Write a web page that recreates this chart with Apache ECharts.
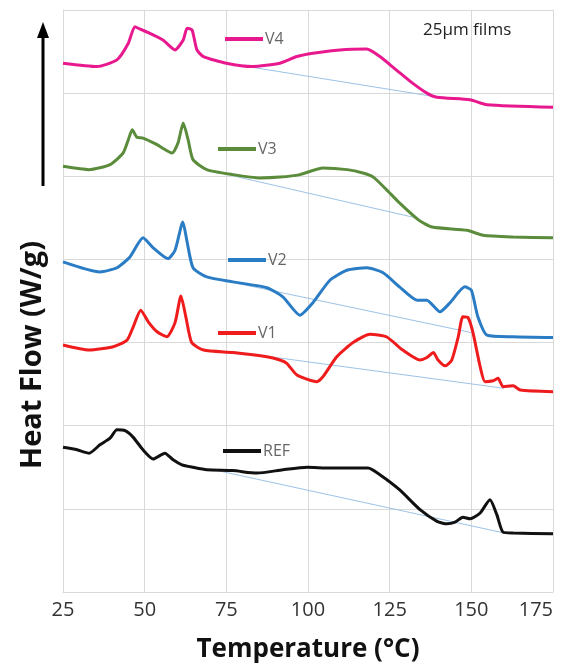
<html>
<head>
<meta charset="utf-8"/>
<title>DSC curves</title>
<script src="https://cdn.jsdelivr.net/npm/echarts@6/dist/echarts.min.js"></script>
</head>
<body style="margin:0">
<div id="main" style="width:563px;height:671px;"></div>
<script type="text/javascript">
// temperature ticks on the x axis
var xTicks = [25, 50, 75, 100, 125, 150, 175];

// [temperature, heat flow (stacked, arbitrary units)]
var V4 = [[25,6.36],[35.4,6.32],[41.5,6.40],[45,6.60],[47,6.80],[48.6,6.77],[51.6,6.72],[55.6,6.64],[59.3,6.52],[61.8,6.64],[63,6.78],[64.5,6.76],[66,6.52],[68,6.44],[75,6.36],[83,6.32],[91.4,6.36],[96.6,6.44],[101.5,6.48],[109.8,6.52],[118,6.53],[122,6.44],[127,6.28],[132,6.12],[136.4,6.00],[139.5,5.95],[149.6,5.92],[154.8,5.86],[175,5.83]];
var V3 = [[25,5.12],[33,5.08],[39.4,5.14],[43.4,5.28],[45,5.44],[46.2,5.56],[47.6,5.47],[49.5,5.46],[53.8,5.38],[58.4,5.28],[60.2,5.40],[61.8,5.64],[63.3,5.44],[64.8,5.20],[69,5.08],[77,5.02],[85.3,4.98],[91.4,4.99],[97.5,5.02],[104.6,5.10],[112,5.08],[116.8,5.04],[120,4.99],[124,4.84],[128,4.68],[134,4.47],[138,4.39],[148.7,4.35],[153.6,4.29],[162.8,4.27],[175,4.26]];
var V2 = [[25,3.97],[36.3,3.85],[41.5,3.90],[45.5,4.03],[49.5,4.26],[52.6,4.14],[57.1,4.01],[59.3,4.11],[61.7,4.45],[62.9,4.23],[64.8,3.90],[69,3.79],[77,3.73],[87.4,3.66],[92.3,3.55],[97.5,3.33],[101.5,3.48],[106.7,3.75],[111.9,3.87],[118,3.90],[123,3.84],[128,3.67],[133.4,3.51],[136.4,3.51],[140.4,3.37],[143.5,3.48],[148,3.67],[150,3.63],[152,3.31],[154.8,3.09],[162.8,3.07],[175,3.06]];
var V1 = [[25,2.97],[33,2.91],[40.4,2.95],[44.6,3.03],[46.5,3.19],[48.8,3.39],[51.1,3.25],[53.8,3.13],[56.8,3.07],[59.3,3.24],[61.1,3.56],[62.6,3.31],[64.4,3.00],[68,2.91],[77,2.88],[87.4,2.83],[91.4,2.79],[93.5,2.75],[96.6,2.61],[102.7,2.53],[104.6,2.59],[108.8,2.83],[113.8,3.00],[119,3.10],[124,3.07],[129,2.91],[134.3,2.79],[136.4,2.82],[138.4,2.88],[139.8,2.79],[142,2.72],[144,2.79],[146,3.07],[147.4,3.31],[149,3.30],[150.5,3.12],[152.7,2.71],[154.2,2.53],[156.7,2.54],[158.2,2.57],[159.7,2.47],[162.8,2.48],[165,2.43],[175,2.41]];
var REF = [[25,1.74],[29.3,1.71],[33,1.67],[36.3,1.77],[39.4,1.85],[41.5,1.95],[44,1.94],[46.5,1.86],[49.5,1.71],[52.6,1.60],[56.2,1.67],[58.7,1.59],[61.4,1.53],[64.8,1.50],[69,1.47],[77,1.46],[84.4,1.43],[92.3,1.47],[99.7,1.50],[106.7,1.49],[118.4,1.49],[122,1.41],[128,1.23],[134.3,0.99],[139.5,0.85],[142.5,0.82],[145,0.84],[147.4,0.90],[149.6,0.88],[152.7,0.95],[155.7,1.11],[157.8,0.93],[159.7,0.72],[162.8,0.71],[175,0.70]];

// tangent baselines drawn under each curve
var V4base = [[72,6.38],[140,5.95]];
var V3base = [[71,5.06],[133,4.50]];
var V2base = [[75,3.74],[150,3.12]];
var V1base = [[77,2.89],[160,2.45]];
var REFbase = [[70,1.48],[160,0.71]];

var names = ['V4', 'V3', 'V2', 'V1', 'REF'];
var curves = [V4, V3, V2, V1, REF];
var bases = [V4base, V3base, V2base, V1base, REFbase];
var colors = ['#e8198e', '#5b8c3b', '#2a7cc4', '#ee1c1c', '#111111'];
// legend placement (left, top) next to each curve
var legendPos = [[225, 31], [218, 141], [228, 252], [218, 325], [223, 443]];

var chartDom = document.getElementById('main');
var myChart = echarts.init(chartDom);

var series = [];
bases.forEach(function (b) {
    series.push({
        type: 'line',
        data: b,
        symbol: 'none',
        silent: true,
        lineStyle: { color: '#9dc3e6', width: 1 },
        z: 1
    });
});
curves.forEach(function (c, i) {
    series.push({
        name: names[i],
        type: 'line',
        data: c,
        symbol: 'none',
        smooth: 0.2,
        lineStyle: { color: colors[i], width: 3 },
        itemStyle: { color: colors[i] },
        z: 3
    });
});

var legends = names.map(function (n, i) {
    return {
        data: [n],
        left: legendPos[i][0],
        top: legendPos[i][1],
        padding: 0,
        icon: 'rect',
        itemWidth: 38,
        itemHeight: 4,
        itemGap: 0,
        textStyle: { color: '#666', fontSize: 16, fontFamily: 'Open Sans', padding: [0, 0, 0, -3] }
    };
});

var option = {
    animation: false,
    backgroundColor: '#fff',
    grid: { left: 63, top: 10, right: 10, bottom: 79, outerBoundsMode: 'none', containLabel: false },
    legend: legends,
    xAxis: {
        type: 'value',
        min: 25,
        max: 175,
        interval: 25,
        name: 'Temperature (°C)',
        nameLocation: 'middle',
        nameGap: 45,
        nameTextStyle: { fontSize: 26, fontWeight: 'bold', color: '#111', fontFamily: 'Open Sans' },
        axisLine: { lineStyle: { color: '#d9d9d9' } },
        axisTick: { show: false },
        axisLabel: { fontSize: 20, color: '#333', margin: 8, fontFamily: 'Open Sans',
            alignMaxLabel: 'right',
            formatter: function (v) { return xTicks.indexOf(v) >= 0 ? v : ''; } },
        splitLine: { show: true, lineStyle: { color: '#d9d9d9' } }
    },
    yAxis: {
        type: 'value',
        min: 0,
        max: 7,
        interval: 1,
        axisLine: { show: true, lineStyle: { color: '#d9d9d9' } },
        axisTick: { show: false },
        axisLabel: { show: false },
        splitLine: { show: true, lineStyle: { color: '#d9d9d9' } }
    },
    graphic: [
        {
            type: 'text',
            left: 423, top: 22,
            style: { text: '25µm films', fontSize: 17, fill: '#222', fontFamily: 'Open Sans' }
        },
        {
            type: 'text',
            x: 33, y: 355,
            rotation: Math.PI / 2,
            style: { text: 'Heat Flow (W/g)', fontSize: 29, fontWeight: 'bold', fill: '#111',
                fontFamily: 'Open Sans', align: 'center', verticalAlign: 'middle' }
        },
        {
            type: 'line',
            shape: { x1: 43, y1: 186, x2: 43, y2: 36 },
            style: { stroke: '#000', lineWidth: 3 }
        },
        {
            type: 'polygon',
            shape: { points: [[43, 22], [37, 38], [49, 38]] },
            style: { fill: '#000' }
        }
    ],
    series: series
};

myChart.setOption(option);
</script>
</body>
</html>
